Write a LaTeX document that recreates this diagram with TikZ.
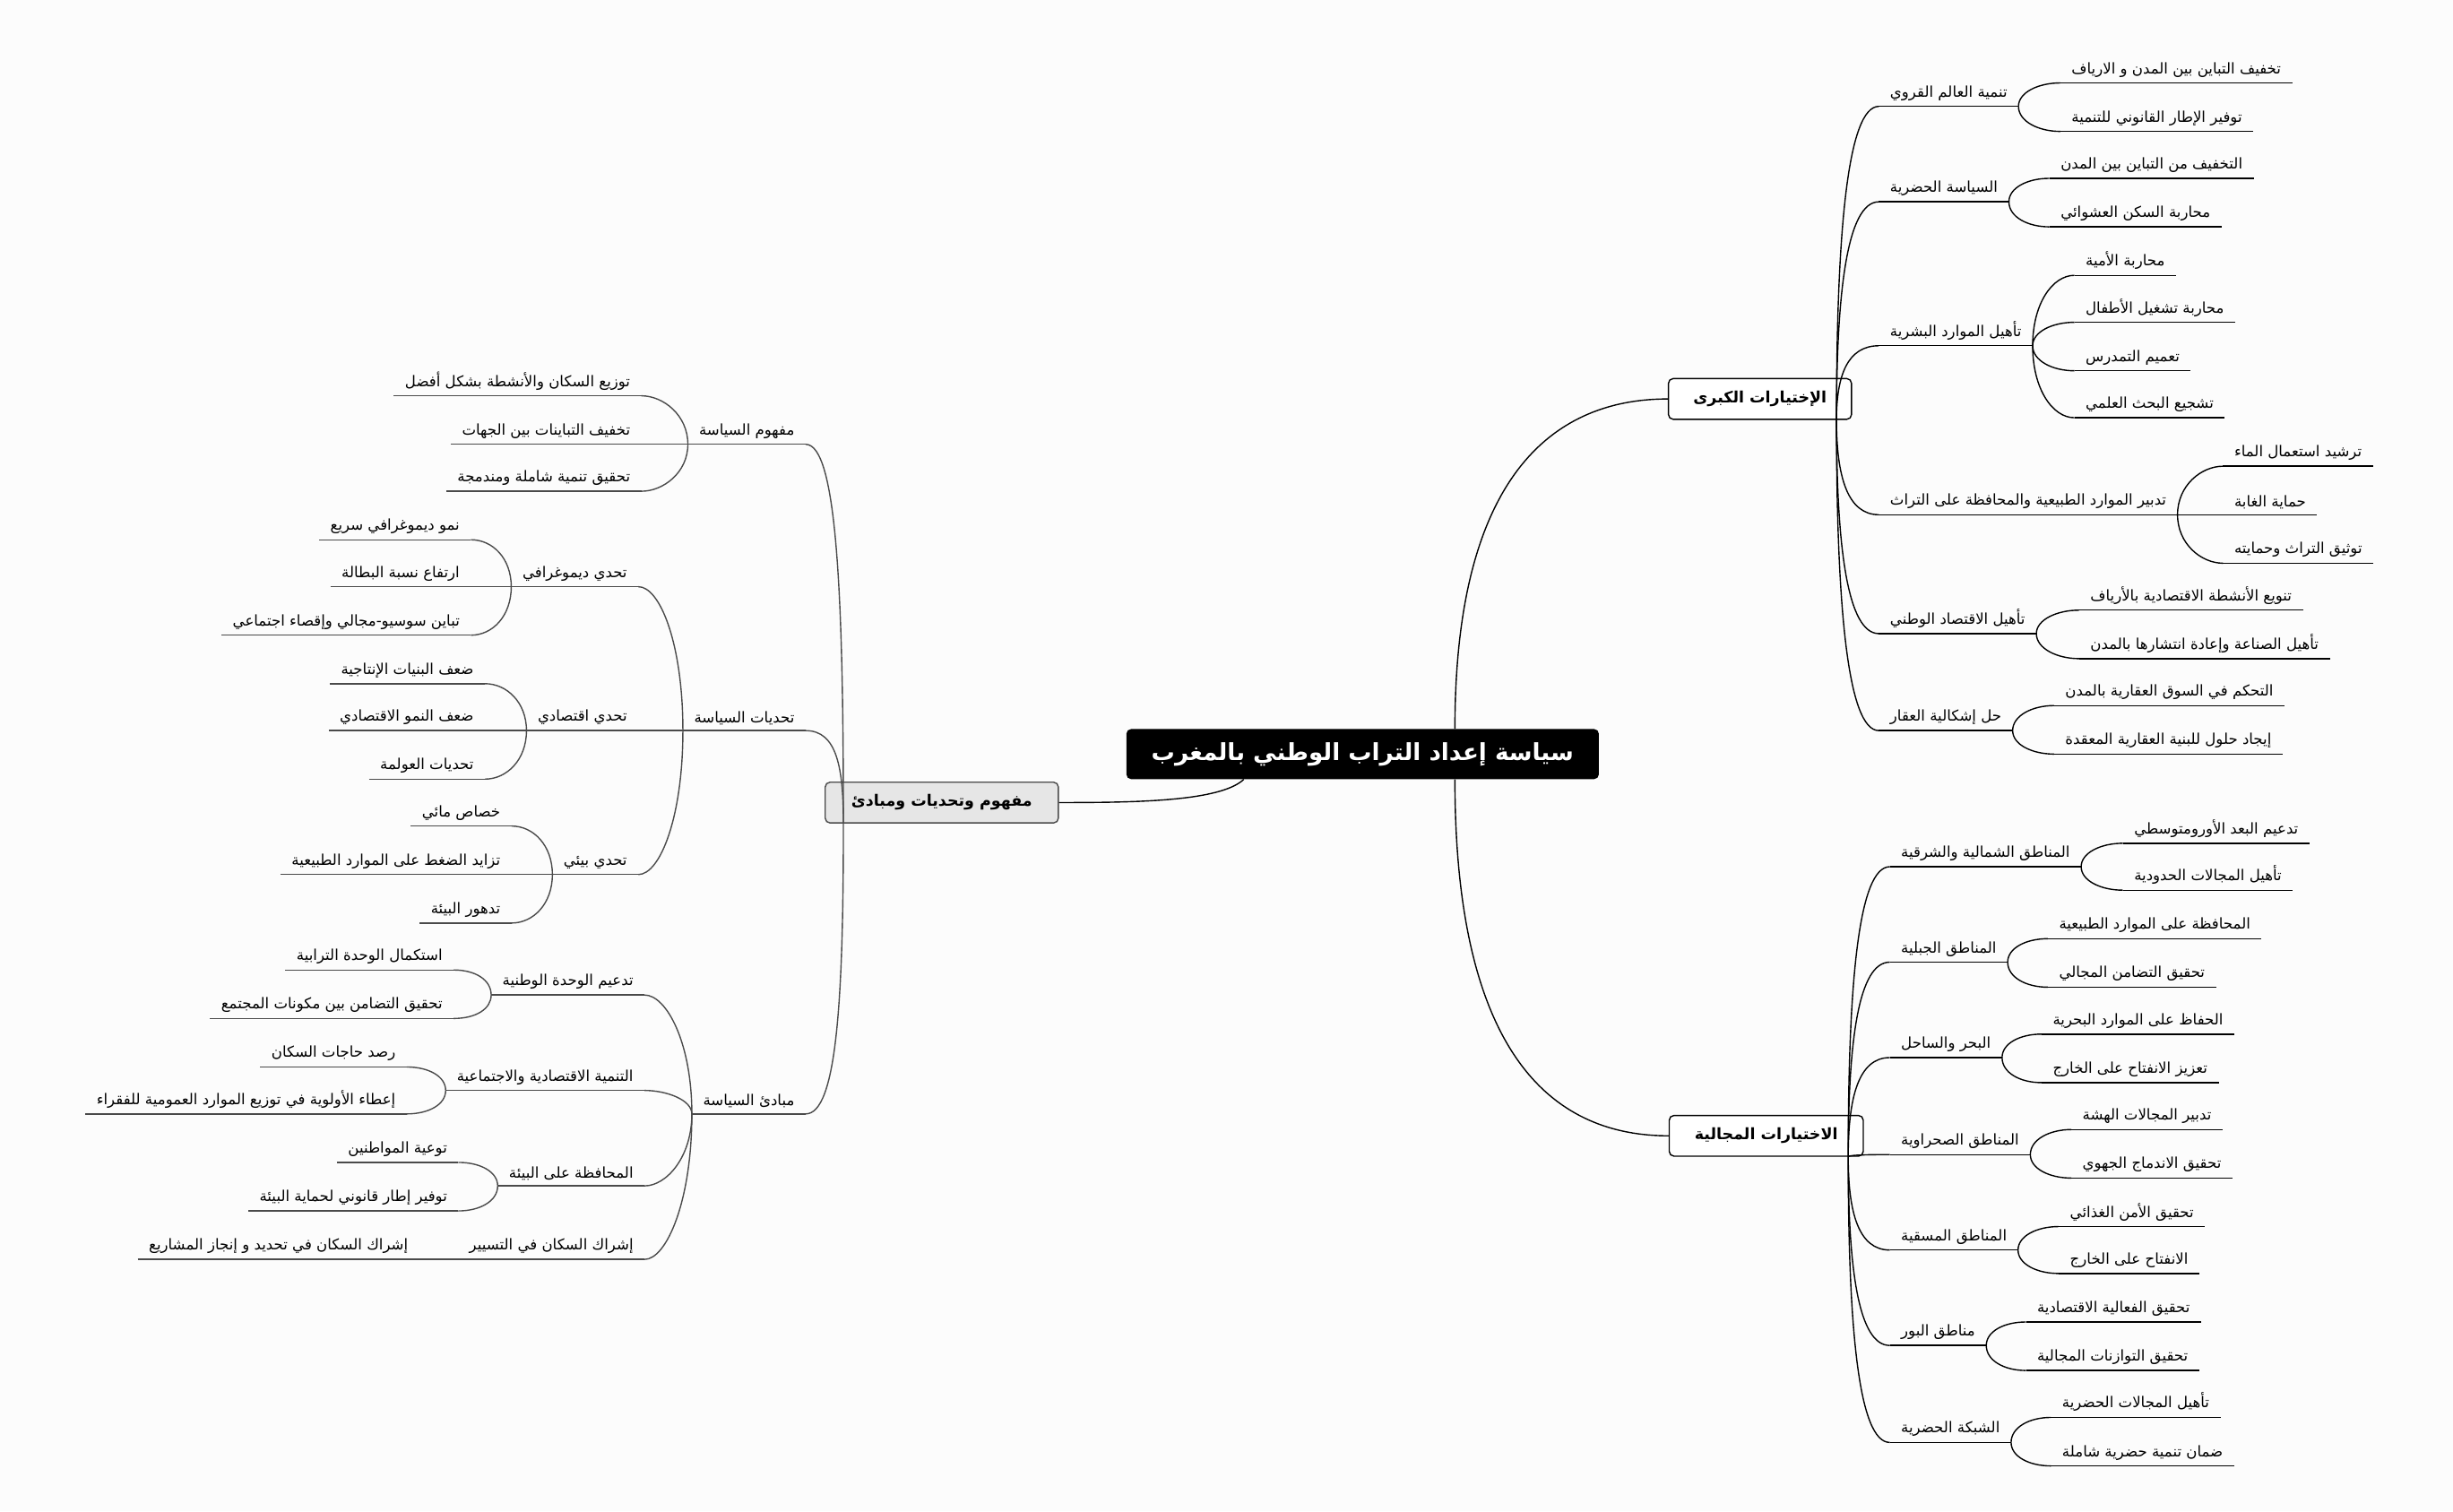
\documentclass[tikz,border=0pt]{standalone}
\usepackage{fontspec}
\setmainfont[Script=Arabic]{DejaVu Sans}
\TeXXeTstate=1
\usetikzlibrary{calc}
\definecolor{bg}{HTML}{FCFCFC}
\definecolor{lgray}{HTML}{4A4A4A}
\definecolor{boxgray}{HTML}{E6E6E6}
\tikzset{
  rtl/.style={execute at begin node={\beginR}, execute at end node={\endR}},
  leaf/.style={rtl, font=\fontsize{9.5}{11}\selectfont, inner xsep=7pt, inner ysep=3.5pt,
     append after command={(\tikzlastnode.south west) edge[draw=#1, line width=0.8pt] (\tikzlastnode.south east)}},
  leaf/.default=black,
  rline/.style={draw=black, line width=0.8pt},
  lline/.style={draw=lgray, line width=0.8pt},
  rootbox/.style={rtl, fill=black, text=white, rounded corners=3pt, minimum width=302pt, minimum height=32pt, font=\fontsize{15}{17}\bfseries\selectfont},
  mainbox/.style={rtl, draw=black, fill=white, rounded corners=3pt, line width=0.8pt, minimum height=26pt, font=\fontsize{10}{12}\bfseries\selectfont},
  graybox/.style={rtl, draw=lgray, fill=boxgray, rounded corners=3pt, line width=0.8pt, minimum height=26pt, font=\fontsize{10}{12}\bfseries\selectfont},
}
\newcommand\RN[4]{\node[leaf,anchor=south west] (#1) at (#2,#3) {#4};}
\newcommand\LN[4]{\node[leaf=lgray,anchor=south east] (#1) at (#2,#3) {#4};}
\newcommand\RL[3][14]{\draw[rline] (#2) .. controls ($(#2)!0.6!(#2|-#3)$) and +(-#1,0) .. (#3);}
\newcommand\LL[3][14]{\draw[lline] (#2) .. controls ($(#2)!0.6!(#2|-#3)$) and +(#1,0) .. (#3);}
\begin{document}
\begin{tikzpicture}[x=1pt,y=-1pt]
\fill[bg] (0,0) rectangle (1568,966);
\useasboundingbox (0,0) rectangle (1568,966);

\node[rootbox] (root) at (871,482) {سياسة إعداد التراب الوطني بالمغرب};
\node[mainbox, minimum width=117pt] (A) at (1125,255) {الإختيارات الكبرى};
\node[mainbox, minimum width=124pt] (B) at (1129,726) {الاختيارات المجالية};
\node[graybox, minimum width=149pt] (C) at (602,513) {مفهوم وتحديات ومبادئ};

\coordinate (rA) at ([xshift=59pt]root.north);
\coordinate (rB) at ([xshift=59pt]root.south);
\coordinate (rC) at ([xshift=-76pt]root.south);
\draw[rline] (rA) .. controls (930,300) and +(-70,0) .. (A.west);
\draw[rline] (rB) .. controls (930,680) and +(-70,0) .. (B.west);
\draw[rline] (rC) .. controls +(-15,14) and +(50,0) .. (C.east);

\coordinate (Ao) at ([xshift=-10pt]A.south east);
\coordinate (Bo) at ([xshift=-10pt]B.south east);
\coordinate (Co) at ([xshift=12pt]C.south west);

% ---- A
\RN{a1}{1201}{68}{تنمية العالم القروي}
\RN{a11}{1317}{53}{تخفيف التباين بين المدن و الارياف}
\RN{a12}{1317}{84}{توفير الإطار القانوني للتنمية}
\RN{a2}{1201}{129}{السياسة الحضرية}
\RN{a21}{1310}{114}{التخفيف من التباين بين المدن}
\RN{a22}{1310}{145}{محاربة السكن العشوائي}
\RN{a3}{1201}{221}{تأهيل الموارد البشرية}
\RN{a31}{1326}{176}{محاربة الأمية}
\RN{a32}{1326}{206}{محاربة تشغيل الأطفال}
\RN{a33}{1326}{237}{تعميم التمدرس}
\RN{a34}{1326}{267}{تشجيع البحث العلمي}
\RN{a4}{1201}{329}{تدبير الموارد الطبيعية والمحافظة على التراث}
\RN{a41}{1421}{298}{ترشيد استعمال الماء}
\RN{a42}{1421}{329}{حماية الغابة}
\RN{a43}{1421}{360}{توثيق التراث وحمايته}
\RN{a5}{1201}{405}{تأهيل الاقتصاد الوطني}
\RN{a51}{1329}{390}{تنويع الأنشطة الاقتصادية بالأرياف}
\RN{a52}{1329}{421}{تأهيل الصناعة وإعادة انتشارها بالمدن}
\RN{a6}{1201}{467}{حل إشكالية العقار}
\RN{a61}{1313}{451}{التحكم في السوق العقارية بالمدن}
\RN{a62}{1313}{482}{إيجاد حلول للبنية العقارية المعقدة}
\foreach \c in {a1,a2,a3,a4,a5,a6}{\RL[20]{Ao}{\c.south west}}
\foreach \p/\c in {a1/a11,a1/a12,a2/a21,a2/a22,a3/a31,a3/a32,a3/a33,a3/a34,a4/a41,a4/a42,a4/a43,a5/a51,a5/a52,a6/a61,a6/a62}{\RL{\p.south east}{\c.south west}}

% ---- B
\RN{b1}{1208}{554}{المناطق الشمالية والشرقية}
\RN{b11}{1357}{539}{تدعيم البعد الأورومتوسطي}
\RN{b12}{1357}{569}{تأهيل المجالات الحدودية}
\RN{b2}{1208}{615}{المناطق الجبلية}
\RN{b21}{1309}{600}{المحافظة على الموارد الطبيعية}
\RN{b22}{1309}{631}{تحقيق التضامن المجالي}
\RN{b3}{1208}{676}{البحر والساحل}
\RN{b31}{1305}{661}{الحفاظ على الموارد البحرية}
\RN{b32}{1305}{692}{تعزيز الانفتاح على الخارج}
\RN{b4}{1208}{738}{المناطق الصحراوية}
\RN{b41}{1324}{722}{تدبير المجالات الهشة}
\RN{b42}{1324}{753}{تحقيق الاندماج الجهوي}
\RN{b5}{1208}{799}{المناطق المسقية}
\RN{b51}{1316}{784}{تحقيق الأمن الغذائي}
\RN{b52}{1316}{814}{الانفتاح على الخارج}
\RN{b6}{1208}{860}{مناطق البور}
\RN{b61}{1295}{845}{تحقيق الفعالية الاقتصادية}
\RN{b62}{1295}{876}{تحقيق التوازنات المجالية}
\RN{b7}{1208}{922}{الشبكة الحضرية}
\RN{b71}{1311}{906}{تأهيل المجالات الحضرية}
\RN{b72}{1311}{937}{ضمان تنمية حضرية شاملة}
\foreach \c in {b1,b2,b3,b4,b5,b6,b7}{\RL[20]{Bo}{\c.south west}}
\foreach \p/\c in {b1/b11,b1/b12,b2/b21,b2/b22,b3/b31,b3/b32,b4/b41,b4/b42,b5/b51,b5/b52,b6/b61,b6/b62,b7/b71,b7/b72}{\RL{\p.south east}{\c.south west}}

% ---- C
\LN{c1}{515}{284}{مفهوم السياسة}
\LN{c11}{410}{253}{توزيع السكان والأنشطة بشكل أفضل}
\LN{c12}{410}{284}{تخفيف التباينات بين الجهات}
\LN{c13}{410}{314}{تحقيق تنمية شاملة ومندمجة}
\LN{c2}{515}{467}{تحديات السياسة}
\LN{c21}{408}{375}{تحدي ديموغرافي}
\LN{c211}{301}{345}{نمو ديموغرافي سريع}
\LN{c212}{301}{375}{ارتفاع نسبة البطالة}
\LN{c213}{301}{406}{تباين سوسيو-مجالي وإقصاء اجتماعي}
\LN{c22}{408}{467}{تحدي اقتصادي}
\LN{c221}{310}{437}{ضعف البنيات الإنتاجية}
\LN{c222}{310}{467}{ضعف النمو الاقتصادي}
\LN{c223}{310}{498}{تحديات العولمة}
\LN{c23}{408}{559}{تحدي بيئي}
\LN{c231}{327}{528}{خصاص مائي}
\LN{c232}{327}{559}{تزايد الضغط على الموارد الطبيعية}
\LN{c233}{327}{590}{تدهور البيئة}
\LN{c3}{515}{712}{مبادئ السياسة}
\LN{c31}{412}{636}{تدعيم الوحدة الوطنية}
\LN{c311}{290}{620}{استكمال الوحدة الترابية}
\LN{c312}{290}{651}{تحقيق التضامن بين مكونات المجتمع}
\LN{c32}{412}{697}{التنمية الاقتصادية والاجتماعية}
\LN{c321}{260}{682}{رصد حاجات السكان}
\LN{c322}{260}{712}{إعطاء الأولوية في توزيع الموارد العمومية للفقراء}
\LN{c33}{412}{758}{المحافظة على البيئة}
\LN{c331}{293}{743}{توعية المواطنين}
\LN{c332}{293}{774}{توفير إطار قانوني لحماية البيئة}
\LN{c34}{412}{805}{إشراك السكان في التسيير}
\LN{c341}{268}{805}{إشراك السكان في تحديد و إنجاز المشاريع}
\foreach \c in {c1,c2,c3}{\LL[20]{Co}{\c.south east}}
\foreach \p/\c in {c1/c11,c1/c12,c1/c13,c2/c21,c2/c22,c2/c23,c3/c31,c3/c32,c3/c33,c3/c34,c21/c211,c21/c212,c21/c213,c22/c221,c22/c222,c22/c223,c23/c231,c23/c232,c23/c233,c31/c311,c31/c312,c32/c321,c32/c322,c33/c331,c33/c332,c34/c341}{\LL{\p.south west}{\c.south east}}
\end{tikzpicture}
\end{document}
